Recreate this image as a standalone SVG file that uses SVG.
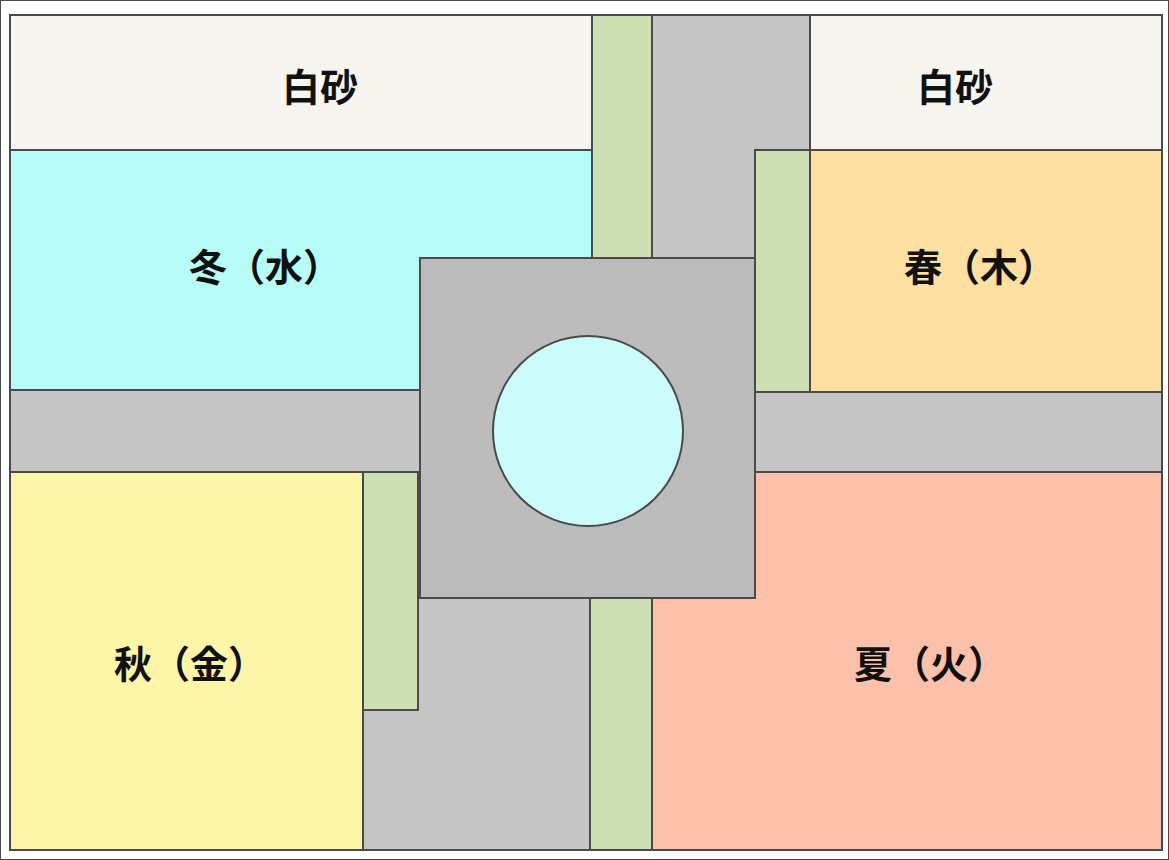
<svg xmlns="http://www.w3.org/2000/svg" width="1169" height="860" viewBox="0 0 1169 860">
<style>
rect,path,circle{stroke:#4a4a4a;stroke-width:2}
.sand{fill:#f7f5f0}.g{fill:#cde0b3}.p{fill:#c6c6c6}
text{font-family:"Noto Sans CJK JP","Noto Sans CJK SC",sans-serif;font-size:38px;font-weight:bold;fill:#111;text-anchor:middle}
</style>
<rect width="1169" height="860" fill="#fff" stroke="none"/>
<rect class="sand" x="10" y="15" width="582" height="135"/>
<rect class="sand" x="810" y="15" width="352" height="135"/>
<rect class="g" x="592" y="15" width="60" height="243"/>
<path class="p" d="M652 15H810V150H755V258H652Z"/>
<rect x="10" y="150" width="582" height="240" fill="#b8fcf8"/>
<rect class="g" x="755" y="150" width="55" height="242"/>
<rect x="810" y="150" width="352" height="242" fill="#fde0a2"/>
<rect class="p" x="10" y="390" width="410" height="82"/>
<rect class="p" x="755" y="392" width="407" height="80"/>
<rect x="10" y="472" width="353" height="378" fill="#fdf6a8"/>
<rect class="g" x="363" y="472" width="55" height="238"/>
<path class="p" d="M418 598H590V850H363V710H418Z"/>
<rect class="g" x="590" y="598" width="62" height="252"/>
<rect x="652" y="472" width="510" height="378" fill="#fcc1aa"/>
<rect x="420" y="258" width="335" height="340" fill="#bcbcbc"/>
<circle cx="588" cy="431" r="95" fill="#ccfbfb"/>
<rect x="10" y="15" width="1152" height="835" fill="none"/>
<text x="320" y="101">白砂</text>
<text x="955" y="101">白砂</text>
<text x="265" y="281">冬（水）</text>
<text x="980" y="281">春（木）</text>
<text x="190" y="678">秋（金）</text>
<text x="930" y="678">夏（火）</text>
</svg>
